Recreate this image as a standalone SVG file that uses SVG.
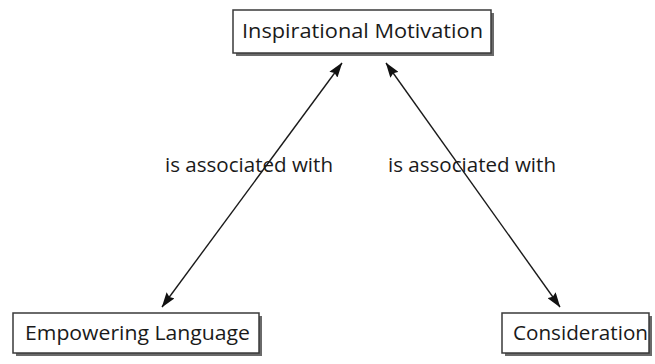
<svg xmlns="http://www.w3.org/2000/svg" width="655" height="364" viewBox="0 0 655 364">
<style>
.box{fill:#fff;stroke:#3a3a3a;stroke-width:1.5}
.sh{fill:#6a6a6a}
.t{font-family:"Open Sans","Liberation Sans",sans-serif;font-size:20.5px;fill:#1a1a1a}
.l{font-family:"Open Sans","Liberation Sans",sans-serif;font-size:19.5px;fill:#1a1a1a}
.c{stroke:#1a1a1a;stroke-width:1.4;fill:none;marker-start:url(#a);marker-end:url(#a)}
</style>
<defs>
<marker id="a" viewBox="0 0 15 10" refX="14.5" refY="5" markerWidth="15" markerHeight="10" markerUnits="userSpaceOnUse" orient="auto-start-reverse">
<path d="M0,0 L15,5 L0,10 L2,5 z" fill="#111"/>
</marker>
</defs>
<g id="connectors">
<line class="c" x1="342" y1="63" x2="162" y2="307"/>
<line class="c" x1="386" y1="63" x2="560" y2="307"/>
<text class="l" x="165" y="172" textLength="168" lengthAdjust="spacingAndGlyphs">is associated with</text>
<text class="l" x="388" y="172" textLength="168" lengthAdjust="spacingAndGlyphs">is associated with</text>
</g>
<g id="n1">
<rect class="sh" x="236" y="13" width="258" height="43"/>
<rect class="box" x="233" y="10" width="258" height="43"/>
<text class="t" x="242" y="38" textLength="241" lengthAdjust="spacingAndGlyphs">Inspirational Motivation</text>
</g>
<g id="n2">
<rect class="sh" x="16" y="316" width="246" height="40"/>
<rect class="box" x="13" y="313" width="246" height="40"/>
<text class="t" x="25" y="340" textLength="225" lengthAdjust="spacingAndGlyphs">Empowering Language</text>
</g>
<g id="n3">
<rect class="sh" x="505" y="316" width="147" height="40"/>
<rect class="box" x="502" y="313" width="147" height="40"/>
<text class="t" x="513" y="340" textLength="135" lengthAdjust="spacingAndGlyphs">Consideration</text>
</g>
</svg>
